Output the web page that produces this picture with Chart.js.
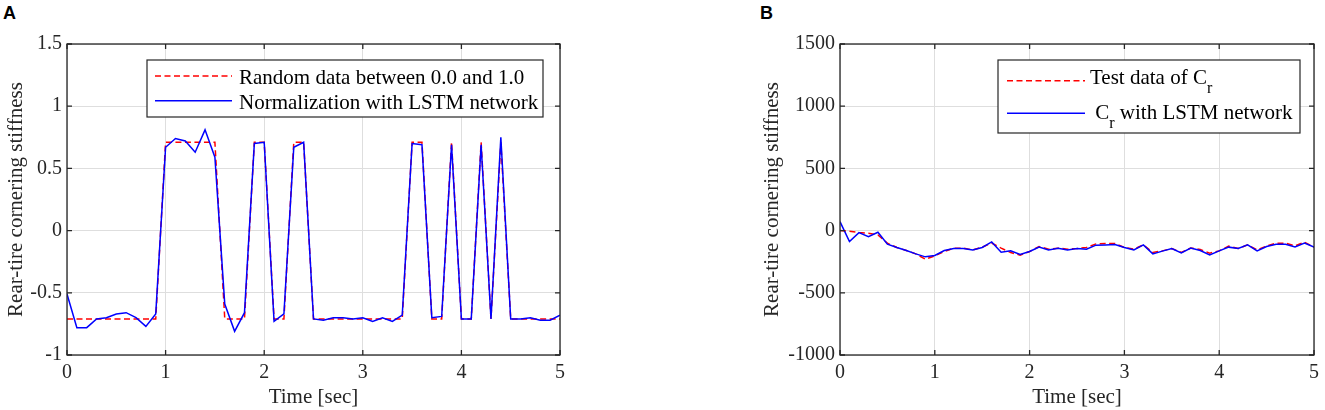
<!DOCTYPE html>
<html>
<head>
<meta charset="utf-8">
<script src="https://cdn.jsdelivr.net/npm/chart.js@4.4.1/dist/chart.umd.min.js"></script>
<style>
  body { margin: 0; background: #fff; width: 1325px; height: 410px; position: relative; overflow: hidden; }
  canvas { position: absolute; top: 0; }
  .tag { position: absolute; top: 4px; font: bold 18px "Liberation Sans", Arial, sans-serif; line-height: 18px; color: #000; }
</style>
</head>
<body>
<div class="tag" style="left:3px">A</div>
<div class="tag" style="left:760px">B</div>
<canvas id="chartA" style="left:0" width="660" height="410"></canvas>
<canvas id="chartB" style="left:660px" width="665" height="410"></canvas>
<script>
// Temps (s), pas de 0.1
const timeSec = [0, 0.1, 0.2, 0.3, 0.4, 0.5, 0.6, 0.7, 0.8, 0.9,
    1.0, 1.1, 1.2, 1.3, 1.4, 1.5, 1.6, 1.7, 1.8, 1.9,
    2.0, 2.1, 2.2, 2.3, 2.4, 2.5, 2.6, 2.7, 2.8, 2.9,
    3.0, 3.1, 3.2, 3.3, 3.4, 3.5, 3.6, 3.7, 3.8, 3.9,
    4.0, 4.1, 4.2, 4.3, 4.4, 4.5, 4.6, 4.7, 4.8, 4.9, 5.0];

// Panneau A
const randomData = [-0.71, -0.71, -0.71, -0.71, -0.71, -0.71, -0.71, -0.71, -0.71, -0.71,
    0.71, 0.71, 0.71, 0.71, 0.71, 0.71,
    -0.71, -0.71, -0.71,
    0.71, 0.71,
    -0.71, -0.71,
    0.71, 0.71,
    -0.71, -0.71, -0.71, -0.71, -0.71, -0.71, -0.71, -0.71, -0.71, -0.71,
    0.71, 0.71,
    -0.71, -0.71,
    0.71,
    -0.71, -0.71,
    0.71,
    -0.71,
    0.71,
    -0.71, -0.71, -0.71, -0.71, -0.71, -0.71];
const normLstm = [-0.51, -0.78, -0.78, -0.71, -0.70, -0.67, -0.66, -0.70, -0.77, -0.67,
    0.67, 0.74, 0.72, 0.63, 0.81, 0.59,
    -0.59, -0.81, -0.66,
    0.70, 0.71,
    -0.73, -0.67,
    0.67, 0.71,
    -0.71, -0.72, -0.70, -0.70, -0.71, -0.70, -0.73, -0.70, -0.73, -0.68,
    0.70, 0.69,
    -0.70, -0.69,
    0.69,
    -0.71, -0.71,
    0.69,
    -0.71,
    0.75,
    -0.71, -0.71, -0.70, -0.72, -0.72, -0.68];

// Panneau B
const testCr = [0, -5, -16, -21, -35, -101, -136, -160, -187, -230,
    -203, -168, -141, -141, -155, -133, -101, -141, -176, -197,
    -168, -128, -149, -141, -149, -144, -136, -107, -104, -104,
    -136, -149, -115, -176, -163, -144, -176, -141, -152, -181,
    -163, -125, -144, -115, -155, -123, -101, -101, -123, -93,
    -133];
const lstmCr = [72, -88, -16, -48, -13, -109, -136, -160, -187, -211,
    -200, -160, -144, -144, -155, -136, -91, -174, -163, -192,
    -168, -133, -155, -141, -155, -144, -149, -117, -115, -112,
    -136, -155, -115, -187, -165, -144, -179, -141, -160, -195,
    -163, -133, -144, -115, -163, -128, -109, -109, -131, -101,
    -133];

const xTicks = [0, 1, 2, 3, 4, 5];
const yTicksA = [-1, -0.5, 0, 0.5, 1, 1.5];
const yTicksB = [-1000, -500, 0, 500, 1000, 1500];

const AXIS = '#262626';
const GRID = '#dedede';
const SERIF = '"Liberation Serif", "Times New Roman", serif';

// Cadre complet et graduations vers l'intérieur (style MATLAB)
const matlabAxes = {
    id: 'matlabAxes',
    afterDatasetsDraw(chart) {
        const { ctx, chartArea: a, scales } = chart;
        ctx.save();
        ctx.strokeStyle = AXIS;
        ctx.lineWidth = 1.3;
        ctx.beginPath();
        scales.x.ticks.forEach(t => {
            const px = scales.x.getPixelForValue(t.value);
            ctx.moveTo(px, a.bottom); ctx.lineTo(px, a.bottom - 5);
            ctx.moveTo(px, a.top); ctx.lineTo(px, a.top + 5);
        });
        scales.y.ticks.forEach(t => {
            const py = scales.y.getPixelForValue(t.value);
            ctx.moveTo(a.left, py); ctx.lineTo(a.left + 5, py);
            ctx.moveTo(a.right, py); ctx.lineTo(a.right - 5, py);
        });
        ctx.stroke();
        ctx.strokeRect(a.left, a.top, a.right - a.left, a.bottom - a.top);
        ctx.restore();
    }
};

// Légende encadrée avec indices (C_r)
const boxLegend = {
    id: 'boxLegend',
    afterDraw(chart, args, opts) {
        if (!opts || !opts.box) return;
        const ctx = chart.ctx;
        const [bx, by, bw, bh] = opts.box;
        ctx.save();
        ctx.fillStyle = '#fff';
        ctx.fillRect(bx, by, bw, bh);
        ctx.strokeStyle = AXIS;
        ctx.lineWidth = 1.2;
        ctx.strokeRect(bx, by, bw, bh);
        opts.items.forEach(it => {
            ctx.beginPath();
            ctx.strokeStyle = it.color;
            ctx.lineWidth = 1.5;
            ctx.setLineDash(it.dash || []);
            ctx.moveTo(it.x0, it.ly);
            ctx.lineTo(it.x1, it.ly);
            ctx.stroke();
            ctx.setLineDash([]);
            ctx.fillStyle = '#000';
            ctx.textBaseline = 'alphabetic';
            let x = it.tx;
            it.parts.forEach(p => {
                ctx.font = (p.sub ? 16 : 21) + 'px ' + SERIF;
                ctx.fillText(p.t, x, it.ty + (p.sub ? 9.5 : 0));
                x += ctx.measureText(p.t).width;
            });
        });
        ctx.restore();
    }
};

function toPoints(values) {
    return timeSec.map((t, i) => ({ x: t, y: values[i] }));
}

function makeChart(id, cfg) {
    const ctx = document.getElementById(id).getContext('2d');
    return new Chart(ctx, {
        type: 'line',
        data: {
            datasets: [
                {
                    data: toPoints(cfg.red),
                    borderColor: '#ff0000',
                    borderWidth: 1.5,
                    borderDash: [6, 3.5],
                    pointRadius: 0,
                    tension: 0,
                    order: 2
                },
                {
                    data: toPoints(cfg.blue),
                    borderColor: '#0000ff',
                    borderWidth: 1.5,
                    pointRadius: 0,
                    tension: 0,
                    order: 1
                }
            ]
        },
        options: {
            responsive: false,
            animation: false,
            layout: { padding: cfg.padding },
            plugins: {
                legend: { display: false },
                tooltip: { enabled: false },
                boxLegend: cfg.legend
            },
            scales: {
                x: {
                    type: 'linear',
                    min: 0,
                    max: 5,
                    afterBuildTicks: s => { s.ticks = xTicks.map(v => ({ value: v })); },
                    afterFit: s => { s.height = 55; },
                    grid: { color: GRID, lineWidth: 1, drawTicks: false },
                    border: { display: false },
                    ticks: {
                        color: AXIS,
                        padding: 6,
                        font: { family: SERIF, size: 20 },
                        callback: v => String(v)
                    },
                    title: {
                        display: true,
                        text: 'Time [sec]',
                        color: AXIS,
                        font: { family: SERIF, size: 21 },
                        padding: { top: 0, bottom: 0 }
                    }
                },
                y: {
                    type: 'linear',
                    min: cfg.yTicks[0],
                    max: cfg.yTicks[cfg.yTicks.length - 1],
                    afterBuildTicks: s => { s.ticks = cfg.yTicks.map(v => ({ value: v })); },
                    afterFit: s => { s.width = cfg.yWidth; },
                    grid: { color: GRID, lineWidth: 1, drawTicks: false },
                    border: { display: false },
                    ticks: {
                        color: AXIS,
                        padding: 5,
                        font: { family: SERIF, size: 20 },
                        callback: v => String(v)
                    },
                    title: {
                        display: true,
                        text: 'Rear-tire cornering stiffness',
                        color: AXIS,
                        font: { family: SERIF, size: 21 },
                        padding: { top: 4, bottom: 0 }
                    }
                }
            }
        },
        plugins: [matlabAxes, boxLegend]
    });
}

makeChart('chartA', {
    red: randomData,
    blue: normLstm,
    yTicks: yTicksA,
    yWidth: 67,
    padding: { left: 0, right: 100, top: 44, bottom: 0 },
    legend: {
        box: [147, 60, 396, 57],
        items: [
            { color: '#ff0000', dash: [6, 3.5], x0: 155, x1: 232, ly: 76, tx: 239, ty: 83.5,
              parts: [{ t: 'Random data between 0.0 and 1.0' }] },
            { color: '#0000ff', x0: 155, x1: 232, ly: 100.7, tx: 239, ty: 108.5,
              parts: [{ t: 'Normalization with LSTM network' }] }
        ]
    }
});

makeChart('chartB', {
    red: testCr,
    blue: lstmCr,
    yTicks: yTicksB,
    yWidth: 84,
    padding: { left: 96, right: 9, top: 44, bottom: 0 },
    legend: {
        box: [338, 60, 302, 73],
        items: [
            { color: '#ff0000', dash: [6, 3.5], x0: 347, x1: 425, ly: 80.7, tx: 430, ty: 83.5,
              parts: [{ t: 'Test data of C' }, { t: 'r', sub: true }] },
            { color: '#0000ff', x0: 347, x1: 425, ly: 113.3, tx: 430, ty: 118.5,
              parts: [{ t: ' C' }, { t: 'r', sub: true }, { t: ' with LSTM network' }] }
        ]
    }
});
</script>
</body>
</html>
